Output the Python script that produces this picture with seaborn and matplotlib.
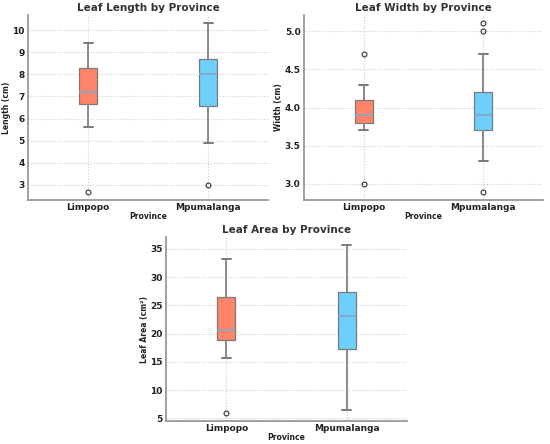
import matplotlib
matplotlib.use("Agg")
import matplotlib.pyplot as plt
import seaborn as sns
import pandas as pd

provinces = ["Limpopo", "Mpumalanga"]

length_limpopo = [2.7, 5.6, 6.2, 6.65, 6.9, 7.0, 7.2, 7.5, 7.9, 8.3, 8.6, 9.0, 9.4]
length_mpumalanga = [3.0, 4.9, 5.8, 6.55, 7.1, 7.6, 8.0, 8.3, 8.5, 8.7, 9.2, 9.8, 10.3]

width_limpopo = [3.0, 3.7, 3.75, 3.8, 3.85, 3.9, 3.9, 3.95, 4.0, 4.1, 4.2, 4.3, 4.7]
width_mpumalanga = [2.9, 3.3, 3.5, 3.7, 3.8, 3.85, 3.9, 4.0, 4.1, 4.2, 4.7, 5.0, 5.1]

area_limpopo = [6.0, 15.6, 17.5, 18.8, 19.5, 20.2, 20.7, 22.5, 24.5, 26.5, 28.5, 31.0, 33.2]
area_mpumalanga = [6.5, 10.5, 14.0, 17.3, 19.5, 21.5, 23.1, 24.5, 26.0, 27.3, 29.5, 32.5, 35.6]

palette = {"Limpopo": "#FF8469", "Mpumalanga": "#6DCFFB"}

sns.set_style("white")
plt.rcParams['font.family'] = ['DejaVu Sans']

fig = plt.figure(figsize=(5.5, 4.44), dpi=100)
W, H = 550, 444
def rect(l, t, r, b):
    return [l / W, 1 - b / H, (r - l) / W, (b - t) / H]

ax1 = fig.add_axes(rect(28, 15, 268, 200))
ax2 = fig.add_axes(rect(304, 15, 543, 200))
ax3 = fig.add_axes(rect(166, 237, 407, 421))

panels = [
    (ax1, length_limpopo, length_mpumalanga, "Leaf Length by Province", "Length (cm)"),
    (ax2, width_limpopo, width_mpumalanga, "Leaf Width by Province", "Width (cm)"),
    (ax3, area_limpopo, area_mpumalanga, "Leaf Area by Province", "Leaf Area (cm²)"),
]

for ax, a, b, title, ylabel in panels:
    df = pd.DataFrame({
        "Province": [provinces[0]] * len(a) + [provinces[1]] * len(b),
        "Value": a + b,
    })
    sns.boxplot(
        data=df, x="Province", y="Value", hue="Province", palette=palette,
        order=provinces, width=0.15, ax=ax, legend=False, saturation=1,
        linewidth=1.0, linecolor="#777777",
        boxprops=dict(edgecolor="#7a7a7a", linewidth=0.9),
        whiskerprops=dict(color="#8a8a8a", linewidth=1.4),
        capprops=dict(color="#7a7a7a", linewidth=1.4),
        medianprops=dict(color="#8aa6c6", linewidth=1.3),
        flierprops=dict(marker="o", markersize=3.5, markerfacecolor="none",
                        markeredgecolor="#333333", markeredgewidth=0.8),
    )
    ax.set_title(title, fontsize=7.5, fontweight="bold", color="#333333", pad=3)
    ax.set_ylabel(ylabel, fontsize=5.5, fontweight="bold", color="#222222", labelpad=1)
    ax.set_xlabel("Province", fontsize=5.5, fontweight="bold", color="#222222", labelpad=0)
    ax.grid(True, linestyle=":", color="#cccccc", linewidth=0.8)
    ax.set_axisbelow(True)
    for s in ["top", "right"]:
        ax.spines[s].set_visible(False)
    for s in ["left", "bottom"]:
        ax.spines[s].set_color("#999999")
        ax.spines[s].set_linewidth(1.3)
    ax.tick_params(axis="both", labelsize=6.5, colors="#999999", labelcolor="#222222",
                   length=1.5, width=0.8, pad=1)
    for lbl in ax.get_xticklabels() + ax.get_yticklabels():
        lbl.set_fontweight("bold")

ax2.set_yticks([3.0, 3.5, 4.0, 4.5, 5.0])
ax2.set_yticklabels(["3.0", "3.5", "4.0", "4.5", "5.0"], fontweight="bold")

fig.savefig("out.png", dpi=100)
